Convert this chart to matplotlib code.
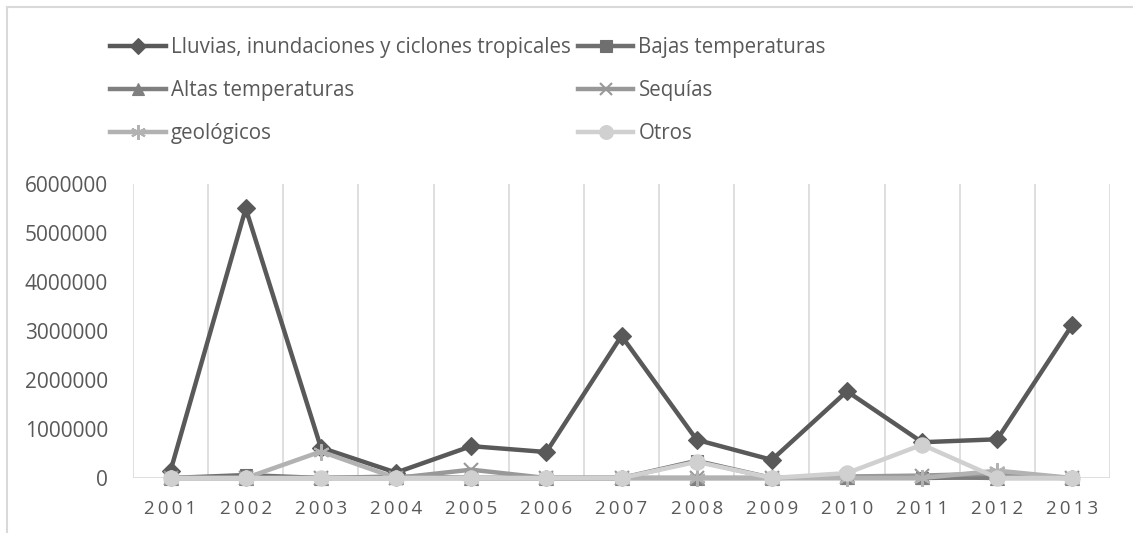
import matplotlib
matplotlib.use("Agg")
import matplotlib.pyplot as plt
from matplotlib.lines import Line2D

years = ["2001", "2002", "2003", "2004", "2005", "2006", "2007",
         "2008", "2009", "2010", "2011", "2012", "2013"]
lluvias = [150000, 5500000, 620000, 110000, 650000, 530000, 2900000,
           780000, 370000, 1770000, 730000, 790000, 3130000]
bajas = [0, 60000, 0, 0, 0, 0, 0, 350000, 0, 0, 0, 20000, 0]
altas = [0, 0, 0, 30000, 0, 0, 0, 0, 0, 20000, 20000, 0, 0]
sequias = [0, 0, 0, 0, 170000, 0, 0, 0, 0, 30000, 50000, 90000, 0]
geologicos = [0, 0, 540000, 0, 0, 0, 0, 0, 0, 0, 0, 150000, 0]
otros = [0, 0, 0, 0, 0, 0, 0, 330000, 0, 100000, 680000, 0, 0]

labels = ["Lluvias, inundaciones y ciclones tropicales", "Bajas temperaturas",
          "Altas temperaturas", "Sequías", "geológicos", "Otros"]
series = [lluvias, bajas, altas, sequias, geologicos, otros]
colors = ["#595959", "#6f6f6f", "#7f7f7f", "#989898", "#b2b2b2", "#d0d0d0"]
markers = ["D", "s", "^", "x", (6, 2, 0), "o"]
msizes = [9, 9, 10, 10, 12, 11]

FONT = ["Open Sans", "DejaVu Sans"]
plt.rcParams["font.family"] = FONT

W, H = 1133, 533
fig = plt.figure(figsize=(W / 100, H / 100), dpi=100)
ax = fig.add_axes([133 / W, 1 - 478 / H, (1110 - 133) / W, (478 - 184) / H])

x = list(range(len(years)))
handles = []
for vals, lab, c, m, ms in zip(series, labels, colors, markers, msizes):
    h, = ax.plot(x, vals, color=c, lw=3.2, marker=m, markersize=ms,
                 markerfacecolor=c, markeredgecolor=c,
                 markeredgewidth=1.5 if m in ("x", (6, 2, 0)) else 0.8,
                 label=lab, zorder=3, clip_on=False)
    handles.append(h)

ax.set_xlim(-0.5, len(years) - 0.5)
ax.set_ylim(0, 6000000)
ax.set_yticks(range(0, 6000001, 1000000))
ax.set_yticklabels([str(v) for v in range(0, 6000001, 1000000)],
                   fontsize=15, color="#595959")
ax.set_xticks(x)
ax.set_xticklabels(["\u2009".join(y) for y in years], fontsize=13.5,
                   color="#595959")
for k in range(len(years) + 1):
    ax.axvline(k - 0.5, color="#d9d9d9", lw=1.2, zorder=1)
ax.axhline(0, color="#d9d9d9", lw=1.2, zorder=1)
for s in ax.spines.values():
    s.set_visible(False)
ax.tick_params(axis="both", length=0)
ax.tick_params(axis="y", pad=18)
ax.tick_params(axis="x", pad=16)

order = [0, 2, 4, 1, 3, 5]
fig.legend([handles[i] for i in order], [labels[i] for i in order],
           loc="upper left", bbox_to_anchor=(100 / W, 1 - 27 / H), ncol=2,
           frameon=False, fontsize=14.8, handlelength=2.7, handletextpad=0.25,
           columnspacing=0.35, labelspacing=1.07, borderpad=0,
           labelcolor="#595959", markerscale=0.9)

fig.add_artist(Line2D([6.5 / W, 6.5 / W], [0, 1 - 6.5 / H], color="#d9d9d9",
                      lw=1.5, transform=fig.transFigure))
fig.add_artist(Line2D([6.5 / W, 1], [1 - 6.5 / H, 1 - 6.5 / H], color="#d9d9d9",
                      lw=1.5, transform=fig.transFigure))

fig.savefig("out.png", dpi=100)
